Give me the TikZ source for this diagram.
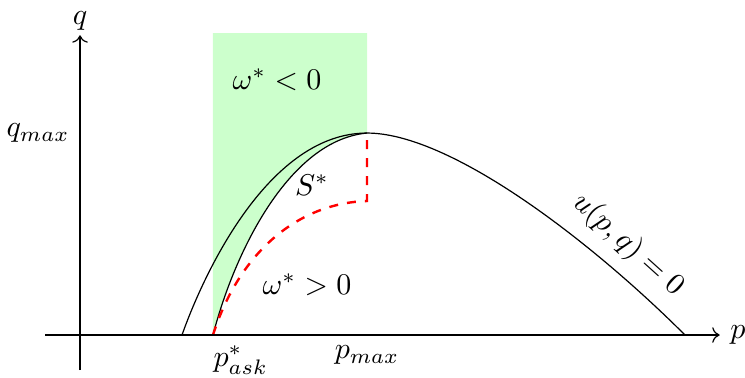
\documentclass[tikz,border=0pt]{standalone}
\usepackage{amsmath}
\usetikzlibrary{arrows.meta,positioning}

\begin{document}
\begin{tikzpicture}[
  region/.style={fill=green!20},
  bound/.style={red, dashed, thick},
  axis/.style={->},
]
\useasboundingbox (-0.937,-0.492) rectangle (7.787,3.923);
% key points
\coordinate (O) at (0,0);
\coordinate (pask) at (1.557,0);
\coordinate (pmax) at (3.361,0);
\coordinate (peak) at (3.361,2.365);
\coordinate (kink) at (3.361,1.569);
\coordinate (left) at (1.194,0);
\coordinate (right) at (7.084,0);
% shaded region
\fill[region] (pask) .. controls (1.815,0.995) and (2.459,2.283) .. (peak)
  -- (3.361,3.536) -- (1.557,3.536) -- cycle;
% curves
\draw (left) .. controls (1.464,0.761) and (2.225,2.365) .. (peak)
  .. controls (4.333,2.365) and (5.972,1.112) .. (right);
\draw (pask) .. controls (1.815,0.995) and (2.459,2.283) .. (peak);
\draw[bound] (pask) .. controls (1.874,0.995) and (2.576,1.546) .. (kink) -- (peak);
% axes
\draw[axis] (-0.41,0) -- (7.49,0) node[right] (plab) {$p$};
\draw[axis] (0,-0.41) -- (0,3.51) node[above, inner sep=1.5pt] (qlab) {$q$};
% labels
\node[left] (qmax) at (0,2.365) {$q_{max}$};
\node[below right, inner xsep=0pt] (paskl) at (pask) {$p^*_{ask}$};
\node[below] (pmaxl) at (pmax) {$p_{max}$};
\node (wneg) at (2.307,2.986) {$\omega^* < 0$};
\node (wpos) at (2.658,0.585) {$\omega^* > 0$};
\node (sstar) at (2.717,1.756) {$S^*$};
\node[rotate=-42] (ulab) at (6.417,1.054) {$u(p,q) = 0$};
\end{tikzpicture}
\end{document}
